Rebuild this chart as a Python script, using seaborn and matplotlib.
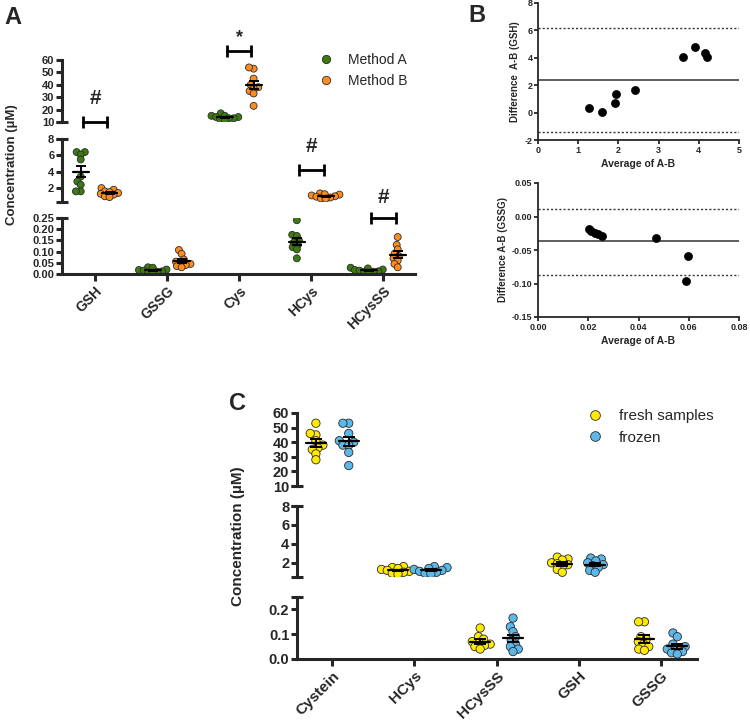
import warnings
import matplotlib
matplotlib.use("Agg")
import matplotlib.pyplot as plt
from matplotlib.lines import Line2D
from matplotlib.ticker import FormatStrFormatter
import numpy as np
import pandas as pd
import seaborn as sns

warnings.filterwarnings("ignore")

# ---- Panel A: Method A vs Method B (µM) ----
cats_a = ["GSH", "GSSG", "Cys", "HCys", "HCysSS"]
groups_a = ["Method A", "Method B"]
method_a = {
    "GSH": [6.4, 6.4, 6.1, 5.5, 3.4, 2.8, 2.4, 1.6, 1.6],
    "GSSG": [0.03, 0.028, 0.02, 0.018, 0.015, 0.012, 0.01, 0.006, 0.003],
    "Cys": [17, 15, 14, 13, 14, 12, 15, 13, 11],
    "HCys": [0.24, 0.175, 0.17, 0.15, 0.14, 0.13, 0.12, 0.11, 0.07],
    "HCysSS": [0.028, 0.025, 0.02, 0.018, 0.015, 0.012, 0.01, 0.008, 0.005],
}
method_b = {
    "GSH": [2.0, 1.8, 1.6, 1.5, 1.4, 1.3, 1.2, 1.0, 0.9],
    "GSSG": [0.107, 0.09, 0.065, 0.055, 0.05, 0.045, 0.04, 0.035, 0.03],
    "Cys": [53, 54, 45, 40, 38, 37, 35, 33, 23],
    "HCys": [1.35, 1.25, 1.2, 1.1, 1.0, 0.95, 0.85, 0.75, 0.7],
    "HCysSS": [0.165, 0.13, 0.11, 0.09, 0.08, 0.07, 0.06, 0.045, 0.03],
}

# ---- Panel B: Bland-Altman ----
ba_gsh_avg = [1.26, 1.59, 1.92, 1.94, 2.41, 3.61, 3.90, 4.15, 4.20]
ba_gsh_diff = [0.30, 0.05, 0.68, 1.37, 1.66, 4.05, 4.80, 4.35, 4.05]
ba_gsh_lines = [2.37, 6.15, -1.40]  # bias, upper, lower
ba_gssg_avg = [0.0201, 0.0212, 0.0225, 0.0238, 0.0253, 0.0468, 0.0598, 0.0588]
ba_gssg_diff = [-0.0193, -0.0215, -0.0245, -0.0268, -0.0290, -0.0327, -0.0589, -0.0970]
ba_gssg_lines = [-0.0366, 0.0119, -0.0871]

# ---- Panel C: fresh vs frozen (µM) ----
cats_c = ["Cystein", "HCys", "HCysSS", "GSH", "GSSG"]
groups_c = ["fresh samples", "frozen"]
fresh = {
    "Cystein": [53, 45, 46, 41, 38, 36, 35, 32, 28],
    "HCys": [1.6, 1.5, 1.4, 1.3, 1.2, 1.1, 1.0, 0.9, 0.8],
    "HCysSS": [0.125, 0.09, 0.08, 0.07, 0.065, 0.06, 0.055, 0.05, 0.04],
    "GSH": [2.6, 2.4, 2.3, 2.0, 1.9, 1.8, 1.6, 1.3, 1.0],
    "GSSG": [0.15, 0.15, 0.09, 0.08, 0.07, 0.06, 0.05, 0.04, 0.035],
}
frozen = {
    "Cystein": [53, 53, 46, 41, 40, 38, 38, 33, 24],
    "HCys": [1.6, 1.5, 1.4, 1.3, 1.2, 1.1, 1.0, 0.9, 0.85],
    "HCysSS": [0.165, 0.13, 0.11, 0.09, 0.075, 0.06, 0.05, 0.04, 0.03],
    "GSH": [2.5, 2.4, 2.2, 2.0, 1.8, 1.7, 1.5, 1.2, 1.0],
    "GSSG": [0.105, 0.09, 0.06, 0.05, 0.045, 0.04, 0.03, 0.025, 0.02],
}

W, H = 750, 724
sns.set_theme(style="ticks")
plt.rcParams["font.family"] = ["Liberation Sans", "DejaVu Sans"]
plt.rcParams["font.weight"] = "bold"

fig = plt.figure(figsize=(W / 100, H / 100), dpi=100)
swarms = []  # (collections, final marker size)


def box(left, top, right, bottom):
    return fig.add_axes([left / W, 1 - bottom / H, (right - left) / W, (bottom - top) / H])


def long_df(cats, names, dicts):
    rows = []
    for name, d in zip(names, dicts):
        for c in cats:
            for v in d[c]:
                rows.append((c, name, v))
    return pd.DataFrame(rows, columns=["analyte", "group", "value"])


def broken_panel(df, cats, names, dicts, palette, xlim, boxes, ylims, yticks, fmts,
                 breaks, fs_tick, fs_x, mean_hw, cap, msize, lsize):
    axes = []
    for i, (bx, ylim, ticks, fmt, brk) in enumerate(zip(boxes, ylims, yticks, fmts, breaks)):
        ax = box(*bx)
        sub = df[(df["value"] >= ylim[0]) & (df["value"] <= ylim[1])]
        before = list(ax.collections)
        # swarm laid out with smaller markers so points overlap like the original
        sns.swarmplot(data=sub, x="analyte", y="value", hue="group", order=cats,
                      hue_order=names, palette=palette, dodge=True, size=lsize,
                      edgecolor="#2b2b2b", linewidth=0.6, legend=False, ax=ax, zorder=2)
        swarms.append(([c for c in ax.collections if c not in before], msize))
        for j, (name, d) in enumerate(zip(names, dicts)):
            for k, c in enumerate(cats):
                vals = np.array(d[c])
                m = vals.mean()
                if not ylim[0] <= m <= ylim[1]:
                    continue
                se = vals.std(ddof=1) / np.sqrt(len(vals))
                xc = k + (-0.2 if j == 0 else 0.2)
                ax.plot([xc - mean_hw, xc + mean_hw], [m, m], color="black", lw=1.6, zorder=3)
                ax.errorbar(xc, m, yerr=se, color="black", lw=1.4, capsize=cap,
                            capthick=1.4, zorder=3)
        ax.set_xlim(*xlim)
        ax.set_ylim(*ylim)
        ax.set_yticks(ticks)
        ax.yaxis.set_major_formatter(FormatStrFormatter(fmt))
        ax.yaxis.remove_overlapping_locs = False
        ax.set_yticks(brk, minor=True)
        ax.set_xlabel("")
        ax.set_ylabel("")
        for s in ["top", "right"]:
            ax.spines[s].set_visible(False)
        ax.spines["left"].set_linewidth(2.2)
        ax.tick_params(axis="y", which="major", labelsize=fs_tick, width=2.2, length=4,
                       pad=1.5, direction="out")
        ax.tick_params(axis="y", which="minor", width=2.2, length=8, direction="inout")
        for lab in ax.get_yticklabels():
            lab.set_fontweight("bold")
        if i < len(boxes) - 1:
            ax.spines["bottom"].set_visible(False)
            ax.tick_params(axis="x", bottom=False, labelbottom=False)
        else:
            ax.spines["bottom"].set_linewidth(2.2)
            ax.tick_params(axis="x", width=2.2, length=5, labelsize=fs_x, pad=2)
            ax.set_xticks(range(len(cats)))
            ax.set_xticklabels(cats, rotation=45, ha="right", rotation_mode="anchor",
                               fontweight="bold")
        ax.patch.set_alpha(0)
        axes.append(ax)
    return axes


def bracket(ax, xc, y, half=0.17):
    ax.plot([xc - half, xc + half], [y, y], color="black", lw=2, marker="|",
            markersize=9, mew=2, clip_on=False, zorder=4)


# ---------- Panel A ----------
df_a = long_df(cats_a, groups_a, [method_a, method_b])
pal_a = {"Method A": "#3d7a13", "Method B": "#ff8c1e"}
axA = broken_panel(
    df_a, cats_a, groups_a, [method_a, method_b], pal_a, (-0.46, 4.44),
    [(62, 60, 415, 122), (62, 139, 415, 202), (62, 218, 415, 274)],
    [(10, 60), (0.3, 8), (0, 0.25)],
    [[10, 20, 30, 40, 50, 60], [2, 4, 6, 8], [0, 0.05, 0.10, 0.15, 0.20, 0.25]],
    ["%d", "%d", "%.2f"],
    [[10], [0.3, 8], [0.25]],
    8, 10, 0.11, 3.5, 5, 2.7)

bracket(axA[0], 0, 10)
axA[0].text(0, 29, "#", ha="center", va="center", fontsize=15, fontweight="bold")
bracket(axA[0], 2, 66.9)
axA[0].text(2, 78, "*", ha="center", va="center", fontsize=13, fontweight="bold", clip_on=False)
bracket(axA[1], 3, 4.2)
axA[1].text(3, 7.1, "#", ha="center", va="center", fontsize=15, fontweight="bold")
bracket(axA[2], 4, 0.249)
axA[2].text(4, 0.34, "#", ha="center", va="center", fontsize=15, fontweight="bold",
            clip_on=False)

hA = [Line2D([], [], ls="none", marker="o", markersize=6, markerfacecolor=pal_a[g],
             markeredgecolor="#2b2b2b", markeredgewidth=0.6) for g in groups_a]
legA = fig.legend(hA, groups_a, loc="upper left", bbox_to_anchor=(319 / W, 1 - 53 / H),
                  frameon=False, fontsize=10, handlelength=1.0, handletextpad=1.1,
                  labelspacing=0.5, borderpad=0, borderaxespad=0)
for t in legA.get_texts():
    t.set_fontweight("normal")

fig.text(12 / W, 1 - 165 / H, "Concentration (µM)", rotation=90, ha="center", va="center",
         fontsize=9.5, fontweight="bold")
fig.text(13 / W, 1 - 17 / H, "A", ha="center", va="center", fontsize=17, fontweight="bold")


# ---------- Panel B ----------
def ba_axes(bx, avg, diff, lines, xlim, ylim, xticks, yticks, xfmt, yfmt, ylabel):
    ax = box(*bx)
    sns.scatterplot(x=avg, y=diff, color="black", s=34, edgecolor="black", ax=ax, zorder=3)
    ax.axhline(lines[0], color="#333333", lw=1.1)
    ax.axhline(lines[1], color="#333333", lw=1.0, ls=(0, (1.5, 1.5)))
    ax.axhline(lines[2], color="#333333", lw=1.0, ls=(0, (1.5, 1.5)))
    ax.set_xlim(*xlim)
    ax.set_ylim(*ylim)
    ax.set_xticks(xticks)
    ax.set_yticks(yticks)
    ax.xaxis.set_major_formatter(FormatStrFormatter(xfmt))
    ax.yaxis.set_major_formatter(FormatStrFormatter(yfmt))
    for s in ["top", "right"]:
        ax.spines[s].set_visible(False)
    for s in ["left", "bottom"]:
        ax.spines[s].set_linewidth(1.3)
    ax.tick_params(labelsize=6.5, width=1.3, length=3, pad=1)
    for lab in ax.get_xticklabels() + ax.get_yticklabels():
        lab.set_fontweight("bold")
    ax.set_xlabel("Average of A-B", fontsize=7.5, fontweight="bold", labelpad=3)
    ax.set_ylabel(ylabel, fontsize=7, fontweight="bold", labelpad=3)
    ax.patch.set_alpha(0)
    return ax


ba_axes((538, 3, 739, 140), ba_gsh_avg, ba_gsh_diff, ba_gsh_lines, (0, 5), (-2, 8),
        [0, 1, 2, 3, 4, 5], [-2, 0, 2, 4, 6, 8], "%d", "%d", "Difference  A-B (GSH)")
ba_axes((538, 183, 739, 317), ba_gssg_avg, ba_gssg_diff, ba_gssg_lines, (0, 0.08),
        (-0.15, 0.05), [0, 0.02, 0.04, 0.06, 0.08], [-0.15, -0.10, -0.05, 0.0, 0.05],
        "%.2f", "%.2f", "Difference A-B (GSSG)")
fig.text(477 / W, 1 - 15 / H, "B", ha="center", va="center", fontsize=17, fontweight="bold")

# ---------- Panel C ----------
df_c = long_df(cats_c, groups_c, [fresh, frozen])
pal_c = {"fresh samples": "#ffea00", "frozen": "#5cb8e8"}
axC = broken_panel(
    df_c, cats_c, groups_c, [fresh, frozen], pal_c, (-0.43, 4.44),
    [(297, 413, 697, 486), (297, 506, 697, 577), (297, 597, 697, 659)],
    [(10, 60), (0.5, 8), (0, 0.25)],
    [[10, 20, 30, 40, 50, 60], [2, 4, 6, 8], [0, 0.1, 0.2]],
    ["%d", "%d", "%.1f"],
    [[10], [0.5, 8], [0.25]],
    10.5, 11, 0.12, 4, 6, 3.4)

hC = [Line2D([], [], ls="none", marker="o", markersize=7, markerfacecolor=pal_c[g],
             markeredgecolor="#2b2b2b", markeredgewidth=0.6) for g in groups_c]
legC = fig.legend(hC, groups_c, loc="upper left", bbox_to_anchor=(587 / W, 1 - 409 / H),
                  frameon=False, fontsize=11, handlelength=1.0, handletextpad=1.1,
                  labelspacing=0.5, borderpad=0, borderaxespad=0)
for t in legC.get_texts():
    t.set_fontweight("normal")

fig.text(238 / W, 1 - 536 / H, "Concentration (µM)", rotation=90, ha="center", va="center",
         fontsize=11, fontweight="bold")
fig.text(237 / W, 1 - 403 / H, "C", ha="center", va="center", fontsize=17, fontweight="bold")

# lay out the swarms once, then freeze them and enlarge the markers
fig.canvas.draw()
for colls, size in swarms:
    for c in colls:
        if "draw" in c.__dict__:
            del c.draw
        c.set_sizes(np.full(len(c.get_offsets()), size ** 2))

fig.savefig("out.png", dpi=100)
